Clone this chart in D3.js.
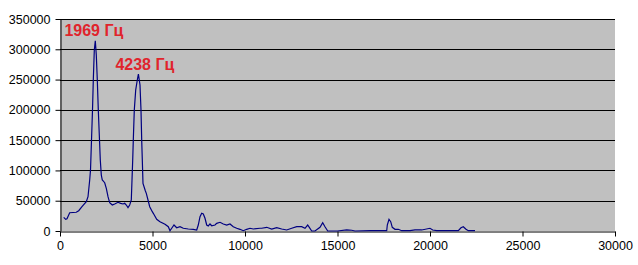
<!DOCTYPE html>
<html>
<head>
<meta charset="utf-8">
<script src="https://cdn.jsdelivr.net/npm/d3@7"></script>
<style>
  body { margin: 0; background: #fff; }
  svg { display: block; font-family: Arial, "Liberation Sans", sans-serif; }
</style>
</head>
<body>
<div id="chart"></div>
<script>
// Spectrum: frequency (Hz) and amplitude
const freqs = [
    200, 308, 378, 524, 881, 1011, 1189, 1422, 1514, 1605, 1649, 1703, 1757, 1800, 1854, 1908,
    1962, 2016, 2070, 2135, 2178, 2232, 2286, 2416, 2503, 2595, 2686, 2827, 2957, 3135, 3281,
    3405, 3497, 3584, 3676, 3767, 3854, 3892, 3930, 3962, 4016, 4092, 4178, 4238, 4324, 4378,
    4416, 4449, 4486, 4611, 4665, 4757, 4849, 4989, 5043, 5227, 5405, 5676, 5854, 5946, 6038,
    6162, 6308, 6486, 6665, 6935, 7205, 7389, 7475, 7568, 7659, 7746, 7838, 7930, 8016, 8108,
    8200, 8378, 8470, 8649, 8827, 9011, 9189, 9367, 9551, 9730, 9908, 10092, 10270, 10449, 10811,
    10902, 11173, 11443, 11713, 11984, 12254, 12524, 12795, 13065, 13243, 13389, 13476, 13605, 13784, 14054,
    14200, 14324, 14470, 15000, 15497, 15767, 15946, 16800, 17660, 17692, 17784, 17876, 17962, 18108, 18286,
    18470, 18919, 19189, 19551, 20000, 20146, 20362, 21000, 21530, 21676, 21800, 21946, 22070, 22432
];
const amps = [
    22600, 19300, 20300, 30200, 30900, 33500, 40100, 48400, 56600, 84200, 100700, 150200, 199800, 249300, 298800, 314000,
    290600, 249300, 199800, 150200, 117200, 92400, 84200, 79700, 70500, 56600, 46700, 42900, 44600, 47400, 45700,
    44600, 45700, 42900, 38500, 42900, 51200, 84200, 117200, 150200, 199800, 232800, 249300, 259000, 241000, 199800,
    150200, 117200, 78700, 66500, 62200, 51200, 40100, 31900, 29200, 19300, 15400, 11100, 7100, 500, 4500,
    9900, 5400, 7100, 4500, 3300, 2800, 1700, 9900, 23600, 29200, 28100, 21000, 9900, 8300, 11600,
    8700, 9900, 12700, 14400, 11600, 9900, 11600, 7100, 4500, 2800, 500, 2800, 4500, 3300, 4500,
    4500, 6100, 3300, 5400, 3300, 1700, 4500, 7100, 7100, 4500, 9900, 6100, 0, 0, 6100,
    13700, 7100, 0, 0, 1700, 1200, 0, 500, 500, 9900, 19300, 15400, 6100, 2800, 2800,
    500, 500, 1700, 1700, 4500, 1700, 500, 500, 500, 5400, 7100, 2800, 500, 500
];

const xTicks = [0, 5000, 10000, 15000, 20000, 25000, 30000];
const yTicks = [0, 50000, 100000, 150000, 200000, 250000, 300000, 350000];

const peakLabels = ["1969 Гц", "4238 Гц"];
const peakFreqs = [1969, 4238];
const peakAmps = [314000, 259000];

const width = 638;
const height = 265;
const margin = { top: 19, right: 23, bottom: 34, left: 60 };

const svg = d3.select("#chart")
    .append("svg")
    .attr("width", width)
    .attr("height", height);

const x = d3.scaleLinear()
    .domain([0, 30000])
    .range([margin.left, width - margin.right]);

const y = d3.scaleLinear()
    .domain([0, 350000])
    .range([height - margin.bottom, margin.top]);

// plot area
svg.append("rect")
    .attr("x", x(0))
    .attr("y", y(350000))
    .attr("width", x(30000) - x(0))
    .attr("height", y(0) - y(350000))
    .attr("fill", "#c0c0c0");

// gridlines
svg.append("g")
    .selectAll("line")
    .data(yTicks.filter(d => d > 0))
    .enter().append("line")
    .attr("x1", x(0))
    .attr("x2", x(30000))
    .attr("y1", d => Math.round(y(d)) + 0.5)
    .attr("y2", d => Math.round(y(d)) + 0.5)
    .attr("stroke", "#000")
    .attr("stroke-width", 1);

// x axis
const xAxis = svg.append("g")
    .attr("transform", `translate(0,${Math.round(y(0)) + 0.5})`)
    .call(d3.axisBottom(x).tickValues(xTicks).tickFormat(d3.format("d")).tickSize(5).tickSizeOuter(0));
xAxis.select(".domain").attr("stroke", "#000");
xAxis.selectAll("line").attr("stroke", "#000");
xAxis.selectAll("text")
    .attr("y", 10)
    .style("font-size", "12.5px")
    .style("font-family", "Arial, 'Liberation Sans', sans-serif")
    .attr("fill", "#000");

// y axis
const yAxis = svg.append("g")
    .attr("transform", `translate(${Math.round(x(0)) + 0.5},0)`)
    .call(d3.axisLeft(y).tickValues(yTicks).tickFormat(d3.format("d")).tickSize(5).tickSizeOuter(0));
yAxis.select(".domain").attr("stroke", "#000");
yAxis.selectAll("line").attr("stroke", "#000");
yAxis.selectAll("text")
    .attr("x", -10)
    .style("font-size", "12.5px")
    .style("font-family", "Arial, 'Liberation Sans', sans-serif")
    .attr("fill", "#000");

// spectrum line
const points = freqs.map((f, i) => [f, amps[i]]);
svg.append("path")
    .datum(points)
    .attr("fill", "none")
    .attr("stroke", "#000080")
    .attr("stroke-width", 1.2)
    .attr("d", d3.line().x(d => x(d[0])).y(d => y(d[1])));

// peak labels
svg.append("g")
    .selectAll("text")
    .data(peakLabels)
    .enter().append("text")
    .attr("x", (d, i) => x(peakFreqs[i]) - (i === 0 ? 32 : 23))
    .attr("y", (d, i) => y(peakAmps[i]) - (i === 0 ? 5 : 4))
    .attr("fill", "#e0242c")
    .style("font-size", "16px")
    .style("font-weight", "bold")
    .text(d => d);
</script>
</body>
</html>
